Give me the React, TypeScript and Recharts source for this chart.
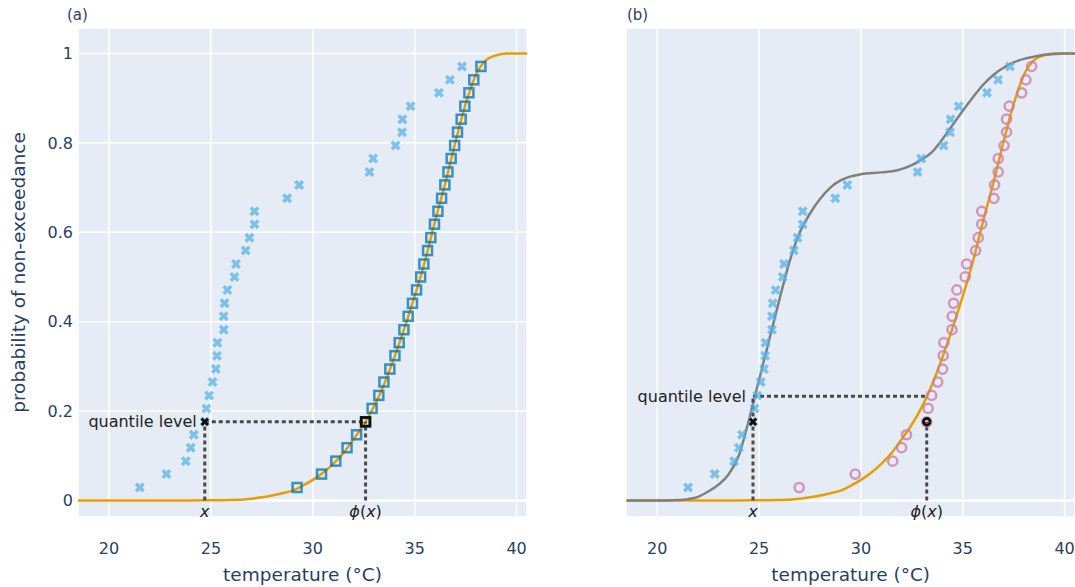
import React from 'react';
import {
  ComposedChart,
  Line,
  Scatter,
  XAxis,
  YAxis,
  CartesianGrid,
  ReferenceLine,
  ReferenceDot,
  Label,
} from 'recharts';

// ---------- data ----------
const levels = [
  0.029, 0.059, 0.088, 0.118, 0.147, 0.176, 0.206, 0.235, 0.265, 0.294, 0.324,
  0.353, 0.382, 0.412, 0.441, 0.471, 0.5, 0.529, 0.559, 0.588, 0.618, 0.647,
  0.676, 0.706, 0.735, 0.765, 0.794, 0.824, 0.853, 0.882, 0.912, 0.941, 0.971,
];
const observedTemps = [
  21.51, 22.82, 23.77, 24.01, 24.16, 24.7, 24.78, 24.91, 25.08, 25.24, 25.3,
  25.32, 25.63, 25.63, 25.67, 25.81, 26.16, 26.23, 26.71, 26.89, 27.14, 27.14,
  28.74, 29.33, 32.78, 32.96, 34.06, 34.38, 34.4, 34.8, 36.19, 36.73, 37.32,
];
const mappedTempsA = [
  29.23, 30.43, 31.13, 31.68, 32.15, 32.59, 32.91, 33.24, 33.49, 33.78, 34.03,
  34.24, 34.47, 34.68, 34.89, 35.09, 35.29, 35.45, 35.63, 35.79, 35.97, 36.14,
  36.32, 36.48, 36.63, 36.79, 36.96, 37.1, 37.28, 37.46, 37.66, 37.9, 38.25,
];
const mappedTempsB = [
  26.97, 29.72, 31.56, 32.0, 32.24, 33.23, 33.3, 33.47, 33.77, 34.01, 34.04,
  34.07, 34.47, 34.48, 34.55, 34.71, 35.12, 35.19, 35.63, 35.76, 35.93, 35.93,
  36.53, 36.56, 36.74, 36.74, 37.03, 37.15, 37.15, 37.28, 37.89, 38.1, 38.38,
];
const targetCdfX = [
  18.48, 22, 24, 25, 26, 27, 27.5, 28, 28.5, 29, 29.5, 30, 30.5, 31, 31.5, 32,
  32.5, 33, 33.5, 34, 34.5, 35, 35.5, 36, 36.5, 37, 37.5, 38, 38.5, 39, 39.5,
  40, 40.51,
];
const targetCdfP = [
  0, 0, 0, 0.0005, 0.001, 0.004, 0.007, 0.011, 0.016, 0.022, 0.033, 0.046,
  0.062, 0.082, 0.106, 0.137, 0.17, 0.21, 0.26, 0.32, 0.386, 0.457, 0.535,
  0.625, 0.71, 0.802, 0.887, 0.952, 0.985, 0.996, 1, 1, 1,
];
const fittedCdfX = [
  18.48, 20.5, 21, 21.5, 22, 22.5, 23, 23.5, 24, 24.5, 25, 25.5, 26, 26.5, 27,
  27.5, 28, 28.5, 29, 29.5, 30, 31, 31.75, 32.5, 33, 33.5, 34, 34.5, 35, 35.5,
  36, 36.5, 37, 37.5, 38, 38.5, 39, 39.5, 40, 40.51,
];
const fittedCdfP = [
  0, 0, 0.001, 0.003, 0.008, 0.02, 0.035, 0.058, 0.1, 0.18, 0.27, 0.36, 0.45,
  0.535, 0.6, 0.642, 0.675, 0.7, 0.716, 0.725, 0.73, 0.734, 0.738, 0.75, 0.763,
  0.78, 0.808, 0.84, 0.872, 0.902, 0.93, 0.952, 0.968, 0.98, 0.988, 0.993,
  0.997, 0.999, 1, 1,
];
const xTicks = [20, 25, 30, 35, 40];
const yTicks = [0, 0.2, 0.4, 0.6, 0.8, 1];

const xExample = 24.7;
const quantileLevelA = 0.176;
const phiA = 32.59;
const quantileLevelB = 0.233;
const phiB = 33.23;

const X_DOMAIN: [number, number] = [18.48, 40.51];
const Y_DOMAIN: [number, number] = [-0.037, 1.057];

// ---------- derived tables ----------
const pts = (xs: number[], ys: number[]) => xs.map((x, i) => ({ x, y: ys[i] }));
const observed = pts(observedTemps, levels);
const mappedA = pts(mappedTempsA, levels);
const mappedB = pts(mappedTempsB, levels);
const targetCurve = pts(targetCdfX, targetCdfP);
const fittedCurve = pts(fittedCdfX, fittedCdfP);

// ---------- styles ----------
const FONT = 'DejaVu Sans, Verdana, sans-serif';
const TICK_COLOR = '#2a3f5f';
const ANN_COLOR = '#222';
const ORANGE = '#E69F00';
const SKY = '#56B4E9';
const BLUE = '#0072B2';
const PINK = '#CC79A7';
const GRAY = '#808080';
const DASH = '#4a4a4a';

const xPath = (cx: number, cy: number, s: number) =>
  `M${cx},${cy + s} l${s},${s} l${s},${-s} l${-s},${-s} l${s},${-s} l${-s},${-s} l${-s},${s} l${-s},${-s} l${-s},${s} l${s},${s} l${-s},${s} l${s},${s} Z`;

const XShape = (color: string, s: number, op: number) => (p: any) => (
  <path d={xPath(p.cx, p.cy, s)} fill={color} fillOpacity={op} />
);
const SquareShape = (color: string, half: number, sw: number, op: number) => (p: any) => (
  <rect
    x={p.cx - half}
    y={p.cy - half}
    width={half * 2}
    height={half * 2}
    fill="none"
    stroke={color}
    strokeWidth={sw}
    strokeOpacity={op}
  />
);
const CircleShape = (color: string, r: number, sw: number, op: number) => (p: any) => (
  <circle cx={p.cx} cy={p.cy} r={r} fill="none" stroke={color} strokeWidth={sw} strokeOpacity={op} />
);

const yFmt = (v: number) => (v === 0 ? '0' : v === 1 ? '1' : String(v));

const xLabelContent = (italicPhi: boolean) => (props: any) => {
  const vb = props.viewBox || {};
  const cx = vb.x + (vb.width || 0) / 2;
  const y = vb.y + (vb.height || 0) + 16;
  return (
    <text x={cx} y={y} textAnchor="middle" fontSize={16} fill={ANN_COLOR} fontFamily={FONT}>
      {italicPhi ? (
        <>
          <tspan fontStyle="italic">ϕ</tspan>
          <tspan>(</tspan>
          <tspan fontStyle="italic">x</tspan>
          <tspan>)</tspan>
        </>
      ) : (
        <tspan fontStyle="italic">x</tspan>
      )}
    </text>
  );
};

const axisTitleX = (props: any) => {
  const vb = props.viewBox || {};
  return (
    <text
      x={vb.x + vb.width / 2}
      y={581}
      textAnchor="middle"
      fontSize={18.5}
      fill={TICK_COLOR}
      fontFamily={FONT}
    >
      temperature (°C)
    </text>
  );
};

const axisTitleY = (props: any) => {
  const vb = props.viewBox || {};
  const cy = vb.y + vb.height / 2;
  return (
    <text
      transform={`translate(25, ${cy}) rotate(-90)`}
      textAnchor="middle"
      fontSize={18.5}
      fill={TICK_COLOR}
      fontFamily={FONT}
    >
      probability of non-exceedance
    </text>
  );
};

const dashProps = {
  stroke: DASH,
  strokeWidth: 3,
  strokeDasharray: '4 3',
  ifOverflow: 'visible' as const,
};

const commonX = (withTitle: boolean) => (
  <XAxis
    type="number"
    dataKey="x"
    domain={X_DOMAIN}
    ticks={xTicks}
    allowDataOverflow
    axisLine={false}
    tickLine={false}
    tickSize={0}
    tickMargin={26}
    height={70}
    tick={{ fill: TICK_COLOR, fontSize: 16, fontFamily: FONT }}
    label={withTitle ? { content: axisTitleX } : undefined}
  />
);

const SKY_X = XShape(SKY, 2.5, 0.75);
const BLACK_X = XShape('#111', 2.1, 1);

function PanelA() {
  return (
    <ComposedChart
      width={530}
      height={587}
      margin={{ top: 28, right: 3, bottom: 0, left: 0 }}
      style={{ fontFamily: FONT }}
    >
      <CartesianGrid stroke="#ffffff" strokeWidth={1.5} fill="#E5ECF6" fillOpacity={1} />
      {commonX(true)}
      <YAxis
        type="number"
        dataKey="y"
        domain={Y_DOMAIN}
        ticks={yTicks}
        allowDataOverflow
        width={78}
        axisLine={false}
        tickLine={false}
        tickSize={0}
        tickMargin={5}
        tickFormatter={yFmt}
        tick={{ fill: TICK_COLOR, fontSize: 16, fontFamily: FONT }}
        label={{ content: axisTitleY }}
      />
      <ReferenceLine y={0} stroke="#ffffff" strokeWidth={2.5} />
      <Line
        data={targetCurve}
        dataKey="y"
        type="monotone"
        stroke={ORANGE}
        strokeWidth={2.5}
        dot={false}
        activeDot={false}
        isAnimationActive={false}
      />
      <Scatter data={observed} dataKey="y" shape={SKY_X} isAnimationActive={false} />
      <Scatter data={mappedA} dataKey="y" shape={SquareShape(BLUE, 4.5, 2.5, 0.75)} isAnimationActive={false} />
      <ReferenceLine segment={[{ x: xExample, y: quantileLevelA }, { x: phiA, y: quantileLevelA }]} {...dashProps} />
      <ReferenceLine segment={[{ x: xExample, y: 0 }, { x: xExample, y: quantileLevelA }]} {...dashProps} />
      <ReferenceLine segment={[{ x: phiA, y: 0 }, { x: phiA, y: quantileLevelA }]} {...dashProps} />
      <Scatter data={[{ x: xExample, y: quantileLevelA }]} dataKey="y" shape={BLACK_X} isAnimationActive={false} />
      <Scatter
        data={[{ x: phiA, y: quantileLevelA }]}
        dataKey="y"
        shape={SquareShape('#111', 4.3, 2.8, 1)}
        isAnimationActive={false}
      />
      <ReferenceDot x={xExample} y={quantileLevelA} r={1} fill="none" stroke="none" ifOverflow="visible">
        <Label value="quantile level" position="left" offset={7} fill={ANN_COLOR} fontSize={16} fontFamily={FONT} />
      </ReferenceDot>
      <ReferenceDot x={xExample} y={0} r={1} fill="none" stroke="none" ifOverflow="visible">
        <Label content={xLabelContent(false)} />
      </ReferenceDot>
      <ReferenceDot x={phiA} y={0} r={1} fill="none" stroke="none" ifOverflow="visible">
        <Label content={xLabelContent(true)} />
      </ReferenceDot>
    </ComposedChart>
  );
}

function PanelB() {
  return (
    <ComposedChart
      width={495}
      height={587}
      margin={{ top: 28, right: 0, bottom: 0, left: 0 }}
      style={{ fontFamily: FONT }}
    >
      <CartesianGrid stroke="#ffffff" strokeWidth={1.5} fill="#E5ECF6" fillOpacity={1} />
      {commonX(true)}
      <YAxis
        type="number"
        dataKey="y"
        domain={Y_DOMAIN}
        ticks={yTicks}
        allowDataOverflow
        width={46.3}
        axisLine={false}
        tickLine={false}
        tick={false}
      />
      <ReferenceLine y={0} stroke="#ffffff" strokeWidth={2.5} />
      <Line
        data={targetCurve}
        dataKey="y"
        type="monotone"
        stroke={ORANGE}
        strokeWidth={2.5}
        dot={false}
        activeDot={false}
        isAnimationActive={false}
      />
      <Line
        data={fittedCurve}
        dataKey="y"
        type="monotone"
        stroke={GRAY}
        strokeWidth={2.5}
        dot={false}
        activeDot={false}
        isAnimationActive={false}
      />
      <Scatter data={observed} dataKey="y" shape={SKY_X} isAnimationActive={false} />
      <Scatter data={mappedB} dataKey="y" shape={CircleShape(PINK, 4.6, 2.5, 0.75)} isAnimationActive={false} />
      <ReferenceLine segment={[{ x: xExample, y: quantileLevelB }, { x: phiB, y: quantileLevelB }]} {...dashProps} />
      <ReferenceLine segment={[{ x: xExample, y: 0 }, { x: xExample, y: quantileLevelB }]} {...dashProps} />
      <ReferenceLine segment={[{ x: phiB, y: 0 }, { x: phiB, y: quantileLevelA }]} {...dashProps} />
      <Scatter data={[{ x: xExample, y: quantileLevelA }]} dataKey="y" shape={BLACK_X} isAnimationActive={false} />
      <Scatter
        data={[{ x: phiB, y: quantileLevelA }]}
        dataKey="y"
        shape={CircleShape('#111', 3.3, 2.8, 1)}
        isAnimationActive={false}
      />
      <ReferenceDot x={xExample} y={quantileLevelB} r={1} fill="none" stroke="none" ifOverflow="visible">
        <Label value="quantile level" position="left" offset={6} fill={ANN_COLOR} fontSize={16} fontFamily={FONT} />
      </ReferenceDot>
      <ReferenceDot x={xExample} y={0} r={1} fill="none" stroke="none" ifOverflow="visible">
        <Label content={xLabelContent(false)} />
      </ReferenceDot>
      <ReferenceDot x={phiB} y={0} r={1} fill="none" stroke="none" ifOverflow="visible">
        <Label content={xLabelContent(true)} />
      </ReferenceDot>
    </ComposedChart>
  );
}

export default function App() {
  return (
    <div style={{ position: 'absolute', left: 0, top: 0, width: 1075, height: 587, background: '#fff', fontFamily: FONT }}>
      <div style={{ position: 'absolute', left: 0, top: 0 }}>
        <PanelA />
      </div>
      <div style={{ position: 'absolute', left: 580, top: 0 }}>
        <PanelB />
      </div>
      <div style={{ position: 'absolute', left: 67, top: 6, fontSize: 15, color: TICK_COLOR, lineHeight: '18px' }}>(a)</div>
      <div style={{ position: 'absolute', left: 627, top: 6, fontSize: 15, color: TICK_COLOR, lineHeight: '18px' }}>(b)</div>
    </div>
  );
}
